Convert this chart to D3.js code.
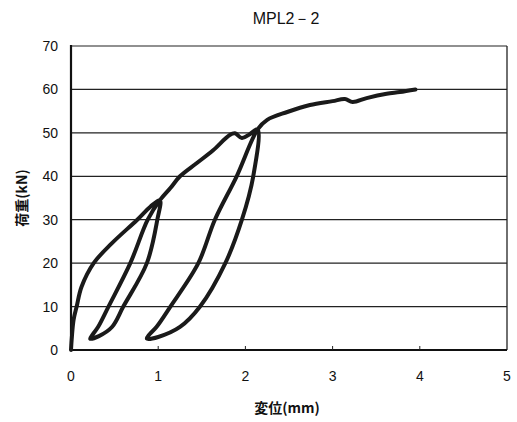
<!DOCTYPE html>
<html>
<head>
<meta charset="utf-8">
<script src="https://cdn.jsdelivr.net/npm/d3@7"></script>
<style>
  body { margin: 0; background: #fff; }
  svg { display: block; }
</style>
</head>
<body>
<svg id="chart" width="517" height="422"></svg>
<script>
// Load / displacement trace, in drawing order
const load1 = [[0, 0], [0.01, 3], [0.03, 7], [0.065, 10], [0.12, 14.5], [0.26, 20], [0.47, 24.6], [0.76, 30], [0.91, 33], [1.02, 34.5]];
const unload1 = [[0.99, 30], [0.87, 20], [0.60, 10], [0.47, 5.3], [0.32, 3.2], [0.22, 2.6]];
const reload1 = [[0.25, 3.6], [0.31, 5.3], [0.43, 10], [0.68, 20], [0.88, 30], [1.02, 34.5]];
const load2 = [[1.14, 37.3], [1.25, 40], [1.44, 43], [1.63, 46], [1.82, 49.5], [1.88, 49.9], [1.96, 48.8], [2.05, 49.7], [2.14, 50.8]];
const unload2 = [[2.09, 40], [1.96, 30], [1.77, 20], [1.48, 10], [1.25, 5.3], [1.0, 3.0], [0.87, 2.6]];
const reload2 = [[0.90, 3.6], [0.98, 5.3], [1.14, 10], [1.46, 20], [1.65, 30], [1.90, 40], [2.14, 50.8]];
const load3 = [[2.25, 53], [2.48, 54.8], [2.74, 56.4], [3.0, 57.3], [3.14, 57.8], [3.23, 57.1], [3.39, 58], [3.62, 59], [3.77, 59.4], [3.95, 60]];

const xTicks = [0, 1, 2, 3, 4, 5];
const yTicks = [0, 10, 20, 30, 40, 50, 60, 70];

const title = "MPL2－2";
const xLabel = "変位(mm)";
const yLabel = "荷重(kN)";

const svg = d3.select("#chart");
const mLeft = 71, mRight = 507, mTop = 46, mBottom = 350;

const x = d3.scaleLinear().domain([0, 5]).range([mLeft, mRight]);
const y = d3.scaleLinear().domain([0, 70]).range([mBottom, mTop]);

const tickFont = "'Liberation Sans', Arial, sans-serif";
const cjkFont = "'Noto Sans CJK JP', sans-serif";

// Grid lines
svg.append("g")
  .selectAll("line")
  .data(yTicks.slice(1))
  .join("line")
  .attr("x1", mLeft).attr("x2", mRight)
  .attr("y1", d => y(d)).attr("y2", d => y(d))
  .attr("stroke", "#222")
  .attr("stroke-width", 1.2);

// Frame
svg.append("line").attr("x1", mRight).attr("x2", mRight).attr("y1", mTop).attr("y2", mBottom)
  .attr("stroke", "#222").attr("stroke-width", 1.3);
svg.append("line").attr("x1", mLeft).attr("x2", mLeft).attr("y1", mTop - 1).attr("y2", mBottom + 1)
  .attr("stroke", "#111").attr("stroke-width", 2.2);
svg.append("line").attr("x1", mLeft).attr("x2", mRight).attr("y1", mBottom).attr("y2", mBottom)
  .attr("stroke", "#111").attr("stroke-width", 2.2);

// X ticks (short, inward)
svg.append("g")
  .selectAll("line")
  .data(xTicks.slice(1, -1))
  .join("line")
  .attr("x1", d => x(d)).attr("x2", d => x(d))
  .attr("y1", mBottom).attr("y2", mBottom - 4)
  .attr("stroke", "#222").attr("stroke-width", 1);

// Tick labels
svg.append("g")
  .selectAll("text")
  .data(yTicks)
  .join("text")
  .attr("x", 58)
  .attr("y", d => y(d) + 5)
  .attr("text-anchor", "end")
  .attr("font-family", tickFont)
  .attr("font-size", 14)
  .attr("fill", "#111")
  .text(d => d);

svg.append("g")
  .selectAll("text")
  .data(xTicks)
  .join("text")
  .attr("x", d => x(d))
  .attr("y", 381)
  .attr("text-anchor", "middle")
  .attr("font-family", tickFont)
  .attr("font-size", 14)
  .attr("fill", "#111")
  .text(d => d);

// Titles
svg.append("text")
  .attr("x", 286).attr("y", 24)
  .attr("text-anchor", "middle")
  .attr("font-family", tickFont)
  .attr("font-size", 16)
  .attr("fill", "#111")
  .text(title);

svg.append("text")
  .attr("x", 287).attr("y", 413)
  .attr("text-anchor", "middle")
  .attr("font-family", cjkFont)
  .attr("font-weight", "bold")
  .attr("font-size", 14)
  .attr("fill", "#111")
  .text(xLabel);

svg.append("text")
  .attr("transform", "translate(27,198) rotate(-90)")
  .attr("text-anchor", "middle")
  .attr("font-family", cjkFont)
  .attr("font-weight", "bold")
  .attr("font-size", 14)
  .attr("fill", "#111")
  .text(yLabel);

// Hysteresis curve
const trace = [].concat(load1, unload1, reload1, load2, unload2, reload2, load3);

const line = d3.line()
  .x(d => x(d[0]))
  .y(d => y(d[1]))
  .curve(d3.curveCatmullRom.alpha(0.5));

svg.append("path")
  .datum(trace)
  .attr("d", line)
  .attr("fill", "none")
  .attr("stroke", "#1a1a1a")
  .attr("stroke-width", 4)
  .attr("stroke-linejoin", "round")
  .attr("stroke-linecap", "round");
</script>
</body>
</html>
